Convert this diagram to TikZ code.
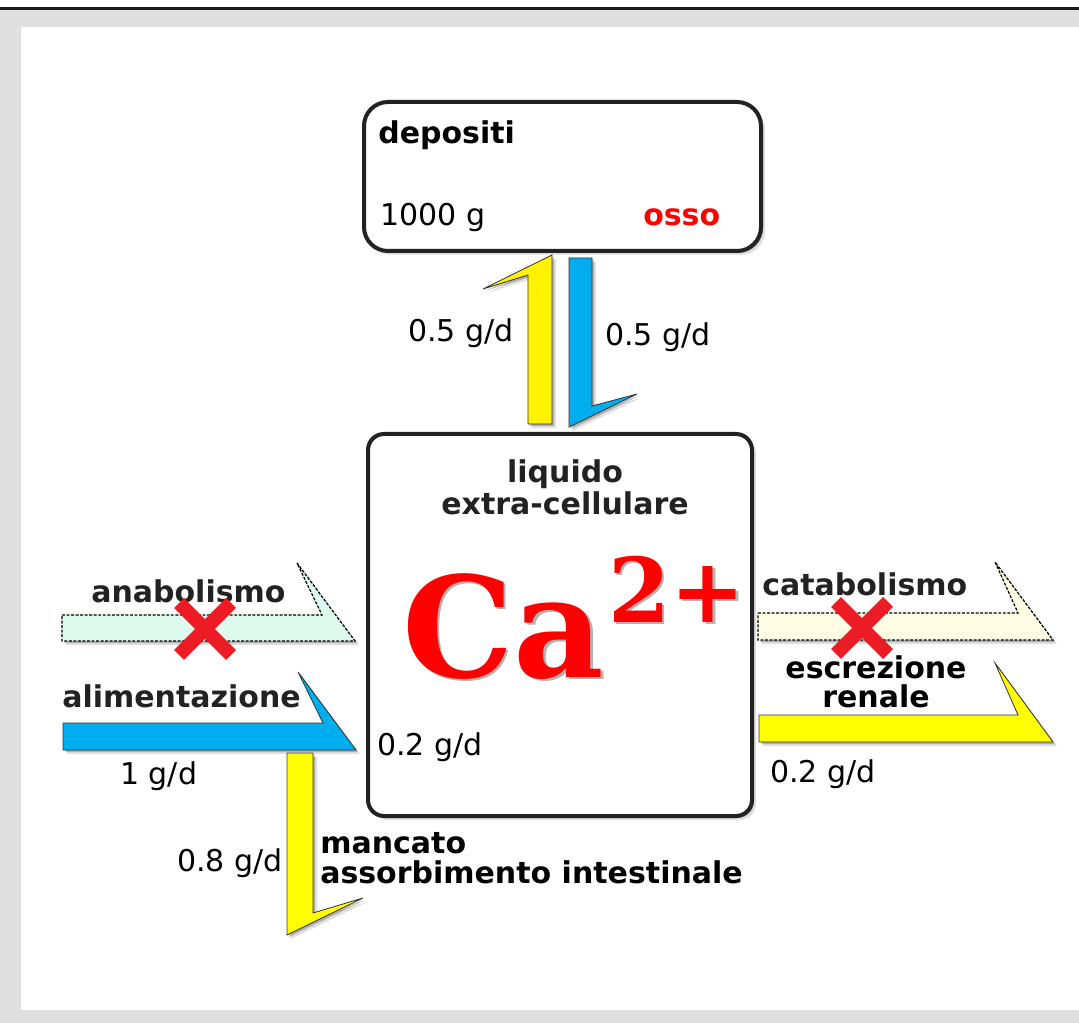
\documentclass[tikz,border=0pt]{standalone}
\usepackage{fontspec}
\setmainfont{DejaVu Sans}
\newfontfamily\ionfont{DejaVu Serif}
\usetikzlibrary{shadows}

\definecolor{framegrey}{HTML}{DFDFDF}
\definecolor{boxline}{HTML}{222222}
\definecolor{flowblue}{HTML}{00AEEF}
\definecolor{flowyellow}{HTML}{FFFF00}
\definecolor{boneyellow}{HTML}{FFF200}
\definecolor{mint}{HTML}{DCFBEE}
\definecolor{cream}{HTML}{FFFDE3}
\definecolor{crossred}{HTML}{ED1C24}
\definecolor{ionred}{HTML}{FF0000}

\newcommand\iontext{Ca\kern3pt\raisebox{41pt}{\fontsize{67}{67}\selectfont 2+}}

\begin{document}
\begin{tikzpicture}[
    x=0.75pt, y=-0.75pt,
    lbl/.style={inner sep=0pt, font=\fontsize{22.5}{24}\selectfont},
    bold/.style={inner sep=0pt, font=\fontsize{22.5}{24}\selectfont\bfseries},
    soft/.style={drop shadow={shadow xshift=1.5pt, shadow yshift=-1.5pt, opacity=.22, fill=black},
                 drop shadow={shadow xshift=3pt, shadow yshift=-3pt, opacity=.12, fill=black}},
    box/.style={rectangle, draw=boxline, line width=3pt, fill=white, soft},
    flow/.style={draw=black!80, line width=0.6pt, soft},
    blocked/.style={flow, draw=black, line width=0.9pt, dash pattern=on 2.2pt off 1.2pt},
    cross/.style={crossred, line width=10.5pt},
    ion/.style={inner sep=0pt, anchor=base west, font=\ionfont\bfseries\fontsize{105}{105}\selectfont}
  ]
    \useasboundingbox (0,0) rectangle (1079,1023);
    % frame
    \fill[white] (0,0) rectangle (1079,1023);
    \fill[framegrey] (0,10) rectangle (1079,1023);
    \fill[white] (21,27) rectangle (1079,1010);
    \fill[black!90] (0,7) rectangle (1079,10);

    % compartments
    \node[box, rounded corners=18pt, minimum width=297.75pt, minimum height=111.75pt] (depo) at (562.5,176.5) {};
    \node[box, rounded corners=12pt, minimum width=288pt, minimum height=286.5pt] (ecf) at (560,625) {};

    \node[bold, anchor=base west] (depotitle) at (378,144) {depositi};
    \node[lbl, anchor=base west] (mass) at (380,226) {1000 g};
    \node[bold, anchor=base west, text=ionred] (bone) at (643,226) {osso};

    \node[bold, anchor=base, text=boxline] (ecfone) at (565,483) {liquido};
    \node[bold, anchor=base, text=boxline] (ecftwo) at ([yshift=-24pt]ecfone.base) {extra-cellulare};
    \node[ion, text=black, opacity=.3] (ionshadow) at (404.5,679.5) {\iontext};
    \node[ion, text=ionred] (ion) at (402,677) {\iontext};
    \node[lbl, anchor=base west] (inrate) at (377,755) {0.2 g/d};

    % bone exchange
    \draw[flow, fill=boneyellow] (528,424) -- (552,424) -- (552,255) -- (483,289) -- (528,275) -- cycle;
    \draw[flow, fill=flowblue] (569,258) -- (592,258) -- (592,406) -- (637,394) -- (569,427) -- cycle;
    \node[lbl, anchor=base west] (uprate) at (408,342) {0.5 g/d};
    \node[lbl, anchor=base west] (downrate) at (605,346) {0.5 g/d};

    % inputs
    \draw[blocked, fill=mint] (62,615) -- (322,615) -- (297,563) -- (355,641) -- (62,641) -- cycle;
    \draw[flow, fill=flowblue] (63,723) -- (323,723) -- (298,672) -- (356,750) -- (63,750) -- cycle;
    \draw[flow, fill=flowyellow] (287,753) -- (313,753) -- (313,913) -- (363,898) -- (287,935) -- cycle;
    \node[bold, anchor=base west, text=boxline] (anab) at (91,603) {anabolismo};
    \node[bold, anchor=base west, text=boxline] (food) at (62,707) {alimentazione};
    \node[lbl, anchor=base west] (foodrate) at (120,784) {1 g/d};
    \node[lbl, anchor=base west] (lossrate) at (177,871) {0.8 g/d};
    \node[bold, anchor=base west] (lossone) at (320,853) {mancato};
    \node[bold, anchor=base west] (losstwo) at ([yshift=-23pt]lossone.base west) {assorbimento intestinale};

    % outputs
    \draw[blocked, fill=cream] (758,613) -- (1018,613) -- (995,562) -- (1053,640) -- (758,640) -- cycle;
    \draw[flow, fill=flowyellow] (759,715) -- (1018,715) -- (995,663) -- (1053,742) -- (759,742) -- cycle;
    \node[bold, anchor=base west, text=boxline] (catab) at (762,595) {catabolismo};
    \node[bold, anchor=base] (renone) at (876,678) {escrezione};
    \node[bold, anchor=base] (rentwo) at ([yshift=-22pt]renone.base) {renale};
    \node[lbl, anchor=base west] (outrate) at (770,782) {0.2 g/d};

    % blocked pathways
    \draw[cross] (179,603) -- (231,655) (179,655) -- (231,603);
    \draw[cross] (836,602) -- (888,654) (836,654) -- (888,602);
  \end{tikzpicture}
\end{document}
